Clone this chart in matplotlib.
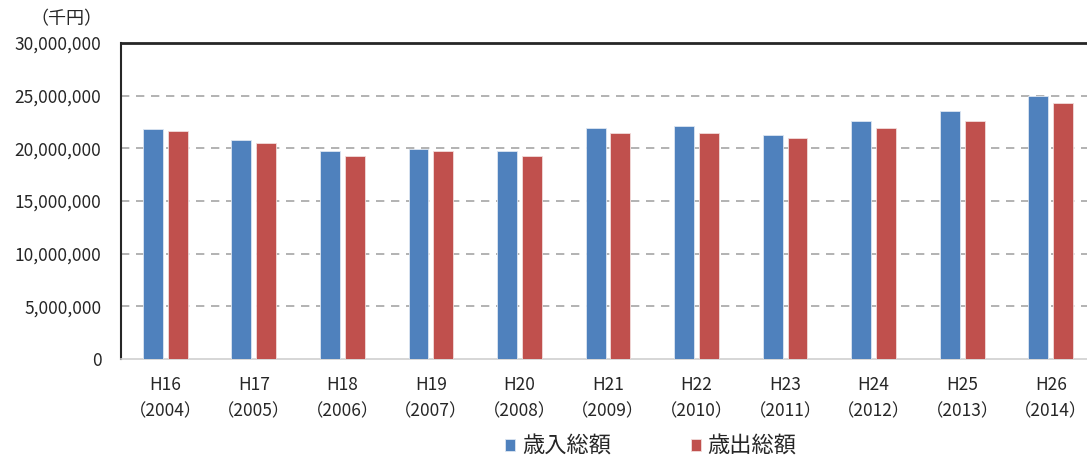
import matplotlib.pyplot as plt
import numpy as np
from matplotlib.ticker import FuncFormatter

plt.rcParams['font.family'] = ['Noto Sans CJK JP', 'DejaVu Sans']

years = ['H16\n（2004）', 'H17\n（2005）', 'H18\n（2006）', 'H19\n（2007）',
         'H20\n（2008）', 'H21\n（2009）', 'H22\n（2010）', 'H23\n（2011）',
         'H24\n（2012）', 'H25\n（2013）', 'H26\n（2014）']
# 千円
revenue = [21800000, 20800000, 19700000, 19900000, 19700000, 21900000,
           22100000, 21300000, 22600000, 23500000, 25000000]
expenditure = [21600000, 20500000, 19300000, 19700000, 19300000, 21450000,
               21500000, 21000000, 21900000, 22600000, 24300000]

blue = '#4F81BD'
red = '#C0504D'
txt = '#262626'

fig = plt.figure(figsize=(10.87, 4.57), dpi=100)
# plot area runs past the right edge in the original
ax = fig.add_axes([121 / 1087, 1 - 359 / 457, 974 / 1087, 316 / 457])

x = np.arange(len(years))
w = 0.225
ax.bar(x - 0.14, revenue, w, color=blue, edgecolor='#dce6f2', linewidth=0.6,
       label='歳入総額', zorder=3)
ax.bar(x + 0.14, expenditure, w, color=red, edgecolor='#f2dcdb', linewidth=0.6,
       label='歳出総額', zorder=3)

ax.set_xlim(-0.5, len(years) - 0.5)
ax.set_ylim(0, 30000000)
ax.set_yticks(np.arange(0, 30000001, 5000000))
ax.yaxis.set_major_formatter(FuncFormatter(lambda v, p: f'{int(v):,}'))
ax.set_xticks(x)
ax.set_xticklabels(years, linespacing=1.6)
ax.tick_params(axis='both', length=0, labelsize=12.5, colors=txt)
ax.tick_params(axis='y', pad=14)
ax.tick_params(axis='x', pad=12)

for v in range(5000000, 30000000, 5000000):
    ax.axhline(v, color='#a6a6a6', linestyle=(0, (5, 4)), linewidth=1.2, zorder=1)

ax.spines['left'].set_color(txt)
ax.spines['left'].set_linewidth(1.5)
ax.spines['top'].set_color(txt)
ax.spines['top'].set_linewidth(2)
ax.spines['bottom'].set_color('#d0d0d0')
ax.spines['bottom'].set_linewidth(1.2)
ax.spines['right'].set_visible(False)

fig.text(30 / 1087, 1 - 19 / 457, '（千円）', fontsize=13, color=txt,
         va='center', ha='left')

fig.legend(loc='center', bbox_to_anchor=(651 / 1087, 1 - 446 / 457), ncol=2,
           frameon=False, fontsize=16, handlelength=0.45, handleheight=0.45,
           handletextpad=0.3, columnspacing=3.6, labelcolor=txt)

fig.savefig('out.png', dpi=100)
